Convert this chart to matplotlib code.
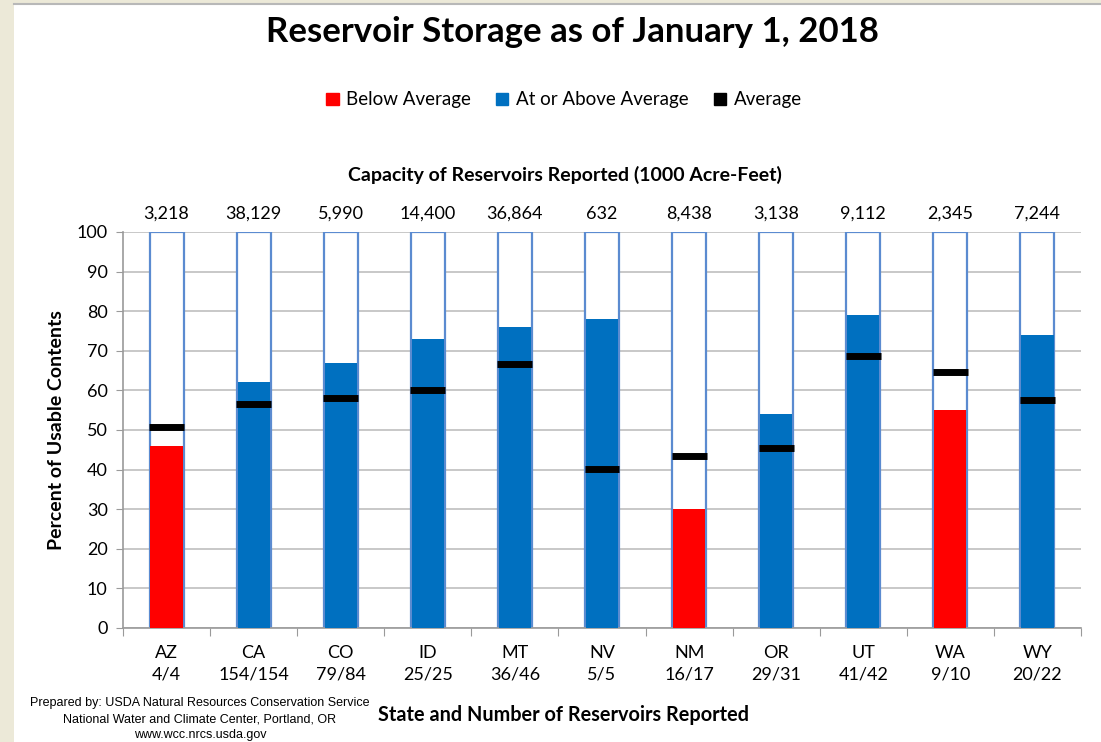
import matplotlib.pyplot as plt
from matplotlib.patches import Patch, Rectangle
from matplotlib.lines import Line2D

# data
states = ['AZ', 'CA', 'CO', 'ID', 'MT', 'NV', 'NM', 'OR', 'UT', 'WA', 'WY']
reported = ['4/4', '154/154', '79/84', '25/25', '36/46', '5/5', '16/17', '29/31', '41/42', '9/10', '20/22']
capacity = ['3,218', '38,129', '5,990', '14,400', '36,864', '632', '8,438', '3,138', '9,112', '2,345', '7,244']
storage = [46, 62, 67, 73, 76, 78, 30, 54, 79, 55, 74]
average = [50.8, 56.6, 58.1, 60.1, 66.7, 40.2, 43.4, 45.5, 68.7, 64.6, 57.6]

RED = '#FF0000'
BLUE = '#0070C0'
EDGE = '#5B8BD0'

plt.rcParams['font.family'] = ['Lato', 'DejaVu Sans']

fig = plt.figure(figsize=(11.01, 7.42), dpi=100)
fig.patch.set_facecolor('#ECE9D8')
# white page with a thin grey top rule
fig.patches.append(Rectangle((14 / 1101, 0), 1, 1 - 5 / 742, transform=fig.transFigure,
                             facecolor='white', edgecolor='none', zorder=-10))
fig.add_artist(Line2D([14 / 1101, 1], [1 - 4 / 742] * 2, transform=fig.transFigure,
                      color='#B8B8B8', lw=1.5))

ax = fig.add_axes([123 / 1101, 1 - 628 / 742, 958 / 1101, 396 / 742])
ax.set_facecolor('none')
x = list(range(len(states)))
w = 0.39

colors = [RED if s < a else BLUE for s, a in zip(storage, average)]
ax.bar(x, [100] * len(x), width=w, facecolor='white', edgecolor=EDGE, linewidth=1.6, zorder=2)
ax.bar(x, storage, width=w - 0.02, color=colors, zorder=3)
ax.hlines(average, [i - 0.2 for i in x], [i + 0.2 for i in x], color='black', lw=5, zorder=4)

ax.set_xlim(-0.5, len(states) - 0.5)
ax.set_ylim(0, 100)
ax.set_yticks(range(0, 101, 10))
ax.yaxis.grid(True, color='#BFBFBF', lw=1.2)
ax.set_axisbelow(True)
for s in ['top', 'right']:
    ax.spines[s].set_visible(False)
ax.spines['left'].set_color('#9A9A9A')
ax.spines['bottom'].set_color('#9A9A9A')
ax.spines['left'].set_linewidth(1.2)
ax.spines['bottom'].set_linewidth(1.2)
ax.tick_params(axis='y', length=5, color='#9A9A9A', labelsize=13, pad=6)
ax.set_xticks([i - 0.5 for i in range(len(states) + 1)], minor=False)
ax.set_xticklabels([])
ax.tick_params(axis='x', length=6, color='#9A9A9A')
ax.set_xticks(x, [f'{s}\n{r}' for s, r in zip(states, reported)], minor=True)
ax.tick_params(axis='x', which='minor', length=0, labelsize=13, pad=12)
for lbl in ax.get_xticklabels(minor=True):
    lbl.set_linespacing(1.45)

for i, c in enumerate(capacity):
    ax.text(i, 102.5, c, ha='center', va='bottom', fontsize=13)

ax.set_ylabel('Percent of Usable Contents', fontsize=14, fontweight='bold', labelpad=8)

fig.text(572 / 1101, 1 - 32 / 742, 'Reservoir Storage as of January 1, 2018',
         ha='center', va='center', fontsize=25, fontweight='bold')
fig.text(565 / 1101, 1 - 175 / 742, 'Capacity of Reservoirs Reported (1000 Acre-Feet)',
         ha='center', va='center', fontsize=14, fontweight='bold')
fig.text(563 / 1101, 1 - 715 / 742, 'State and Number of Reservoirs Reported',
         ha='center', va='center', fontsize=14.3, fontweight='bold')

handles = [Patch(color=RED), Patch(color=BLUE), Patch(color='black')]
fig.legend(handles, ['Below Average', 'At or Above Average', 'Average'], ncol=3,
           loc='center', bbox_to_anchor=(564 / 1101, 1 - 100 / 742), frameon=False,
           fontsize=13.5, handlelength=0.65, handleheight=0.65, handletextpad=0.4, columnspacing=1.35)

fig.text(200 / 1101, 1 - 719 / 742,
         'Prepared by: USDA Natural Resources Conservation Service\n'
         'National Water and Climate Center, Portland, OR\nwww.wcc.nrcs.usda.gov',
         ha='center', va='center', fontsize=9, linespacing=1.45,
         family=['Liberation Sans Narrow', 'Liberation Sans'])

fig.savefig('out.png', dpi=100)
